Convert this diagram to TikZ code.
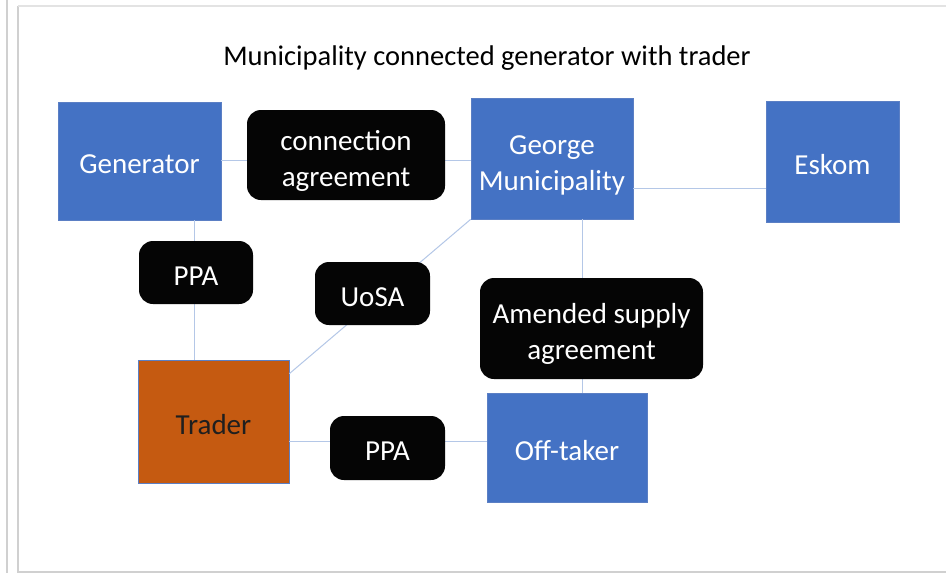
\documentclass[tikz,border=0pt]{standalone}
\usepackage{fontspec}
\setmainfont{Carlito}
% taller first line, lowers the text block inside its box
\newcommand{\firstline}{\rule{0pt}{1.1em}}
\begin{document}
\begin{tikzpicture}[x=1pt,y=-1pt,
  every node/.style={font=\fontsize{29}{36}\selectfont, align=center, inner sep=0pt,
    execute at begin node={\rule{0pt}{0.88em}}},
  entity/.style={rectangle, fill=entblue, draw=entedge, line width=0.6pt, text=white},
  contract/.style={rectangle, rounded corners=14pt, fill=black!98, text=white},
  link/.style={draw=linkblue, line width=1pt}]
  \definecolor{entblue}{HTML}{4472C4}
  \definecolor{entedge}{HTML}{5B7FC4}
  \definecolor{traderfill}{HTML}{C55A11}
  \definecolor{linkblue}{HTML}{B4C7E7}
  \definecolor{framegray}{HTML}{D0D0D0}

  % page area
  \useasboundingbox (0,0) rectangle (946,573);
  \fill[white] (0,0) rectangle (946,573);
  \draw[framegray, line width=2pt] (7,0) -- (7,573);
  \draw[framegray, line width=2pt] (18,6) -- (18,573);
  \draw[framegray!60, line width=1.5pt] (18,6) -- (946,6);
  \draw[framegray, line width=1.5pt] (18,572) -- (946,572);

  % title
  \node (title) at (487,55) {\fontsize{28.5}{34}\selectfont Municipality connected generator with trader};

  % parties
  \node[entity, minimum width=163pt, minimum height=118pt] (gen) at (139.5,161) {Generator};
  \node[entity, minimum width=162pt, minimum height=121pt] (george) at (552,158.5) {\firstline George\\Municipality};
  \node[entity, minimum width=133pt, minimum height=121pt] (eskom) at (832.5,161.5) {Eskom};
  \node[rectangle, fill=traderfill, draw=entedge, line width=0.6pt, text=black!88,
        minimum width=151pt, minimum height=123pt] (trader) at (213.5,421.5) {Trader};
  \node[entity, minimum width=160pt, minimum height=109pt] (offtaker) at (567,447.5) {Off-taker};

  % connectors (drawn before the agreements so these sit on top)
  \coordinate (genE) at (221,160);
  \coordinate (georgeW) at (471,160);
  \draw[link] (genE) -- (georgeW);
  \draw[link] (george.east |- 0,188) -- (eskom.west |- 0,188);
  \draw[link] (194,220) -- (194,360);
  \draw[link] (582,219) -- (582,393);
  \draw[link] (trader.east |- 0,441) -- (offtaker.west |- 0,441);
  \draw[link] ([yshift=-14pt]trader.north east) -- (george.south west);

  % agreements
  \node[contract, minimum width=198pt, minimum height=90pt] (conn) at (346,155) {\firstline connection\\agreement};
  \node[contract, minimum width=114pt, minimum height=63pt] (ppa1) at (196,272.5) {PPA};
  \node[contract, minimum width=115pt, minimum height=63pt] (uosa) at (372.5,293.5) {UoSA};
  \node[contract, minimum width=223pt, minimum height=101pt] (amend) at (591.5,328.5) {\firstline Amended supply\\agreement};
  \node[contract, minimum width=115pt, minimum height=64pt] (ppa2) at (387.5,448) {PPA};
\end{tikzpicture}
\end{document}
